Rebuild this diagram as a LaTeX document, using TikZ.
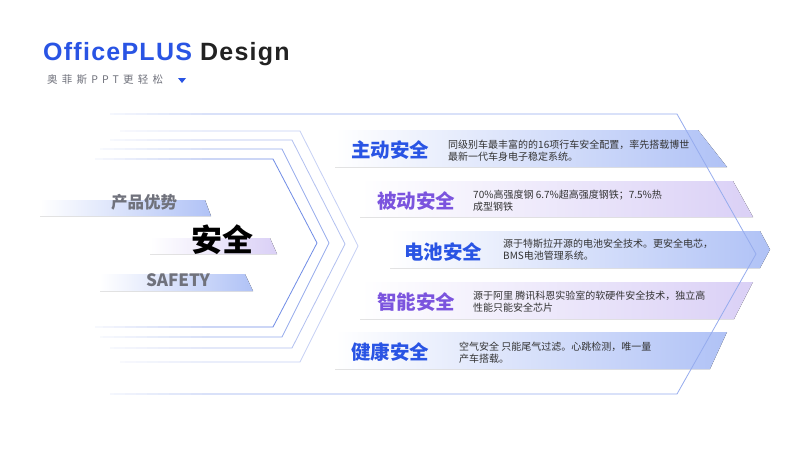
\documentclass[tikz,border=0pt]{standalone}
\usepackage{fontspec}
\setmainfont{Noto Sans CJK SC}
\newfontfamily\latinfont{Liberation Sans}[LetterSpace=5]
\newfontfamily\spacedfont{Noto Sans CJK SC}[LetterSpace=40]

\definecolor{brandblue}{RGB}{41,84,228}
\definecolor{darktext}{RGB}{34,34,34}
\definecolor{titlepurple}{RGB}{123,84,222}
\definecolor{bodygray}{RGB}{51,51,51}
\definecolor{labelgray}{RGB}{112,114,124}
\definecolor{barblue}{RGB}{176,194,246}
\definecolor{barlilac}{RGB}{218,208,246}
\definecolor{chevA}{RGB}{112,140,230}
\definecolor{chevB}{RGB}{150,170,236}
\definecolor{chevC}{RGB}{178,192,240}
\definecolor{chevD}{RGB}{198,208,245}
\definecolor{chevOut}{RGB}{150,172,238}

\tikzset{
  rowtitle/.style={anchor=west,inner sep=0pt,font=\fontsize{19.5}{20}\selectfont\bfseries},
  rowtext/.style={anchor=west,inner sep=0pt,align=left,text=bodygray,font=\fontsize{10}{12}\selectfont},
  bluebar/.style={left color=white,middle color=barblue!30,right color=barblue},
  lilacbar/.style={left color=white,middle color=barlilac!30,right color=barlilac},
  chevline/.style={line width=0.8pt,line join=miter}
}

\begin{document}
\begin{tikzpicture}[x=1pt,y=-1pt]
\useasboundingbox (0,0) rectangle (800,450);
\fill[white] (0,0) rectangle (800,450);

% header
\node[anchor=base west,inner sep=0pt,font=\latinfont\fontsize{25}{25}\selectfont\bfseries] (brand) at (43,60.5)
  {\textcolor{brandblue}{OfficePLUS} \textcolor{darktext}{Design}};
\node[anchor=west,inner sep=0pt,text=labelgray,font=\spacedfont\fontsize{10.5}{10}\selectfont] (slogan) at (47,80) {奥菲斯PPT更轻松};
\fill[brandblue] (178,78) -- (186,78) -- (182,83) -- cycle;

% bars on the right
\fill[bluebar] (335,130) -- (698,130) -- (727,167) -- (335,167) -- cycle;
\fill[lilacbar] (360,181) -- (733,181) -- (753,217) -- (360,217) -- cycle;
\fill[bluebar] (390,231) -- (760,231) -- (770,249.5) -- (760,268) -- (390,268) -- cycle;
\fill[lilacbar] (360,282) -- (753,282) -- (734,319) -- (360,319) -- cycle;
\fill[bluebar] (335,332) -- (727,332) -- (710,369) -- (335,369) -- cycle;

% chevrons
\draw[chevline,chevOut] (110,114) -- (677,114) -- (756,254) -- (677,394) -- (110,394);
\draw[chevline,chevD] (120,131) -- (300,131) -- (358,246) -- (300,362) -- (120,362);
\draw[chevline,chevC] (110,140) -- (292,140) -- (345,244) -- (292,348) -- (110,348);
\draw[chevline,chevB] (100,149) -- (282,149) -- (329,243) -- (282,337) -- (100,337);
\draw[chevline,chevA] (95,159) -- (273,159) -- (317,243) -- (273,327) -- (95,327);
% fade the left ends out
\foreach \i in {0,...,11}
  \fill[white,opacity=1-\i/12] (70+\i*11,100) rectangle +(11,310);

% left labels
\fill[left color=white,right color=barblue] (40,200) -- (205,200) -- (211,216) -- (40,216) -- cycle;
\fill[left color=white,right color=barlilac] (150,238) -- (270,238) -- (277,254) -- (150,254) -- cycle;
\fill[left color=white,right color=barblue] (100,274) -- (245,274) -- (253,291) -- (100,291) -- cycle;
\node[text=labelgray,font=\fontsize{16.5}{17}\selectfont\bfseries] (feature) at (144,202) {产品优势};
\node[text=black,font=\fontsize{31}{31}\selectfont\bfseries] (topic) at (222,240) {安全};
\node[text=labelgray,font=\fontsize{17}{17}\selectfont\bfseries] (safety) at (178,280) {SAFETY};

% rows
\node[rowtitle,text=brandblue] (active) at (351,150) {主动安全};
\node[rowtext] (activetext) at (448,151) {同级别车最丰富的的16项行车安全配置，率先搭载博世\\最新一代车身电子稳定系统。};
\node[rowtitle,text=titlepurple] (passive) at (377,201) {被动安全};
\node[rowtext] (passivetext) at (473,201) {70\%高强度钢 6.7\%超高强度钢铁；7.5\%热\\成型钢铁};
\node[rowtitle,text=brandblue] (battery) at (404,252) {电池安全};
\node[rowtext] (batterytext) at (503,250) {源于特斯拉开源的电池安全技术。更安全电芯，\\BMS电池管理系统。};
\node[rowtitle,text=titlepurple] (smart) at (377,302) {智能安全};
\node[rowtext] (smarttext) at (473,302) {源于阿里 腾讯科恩实验室的软硬件安全技术，独立高\\性能只能安全芯片};
\node[rowtitle,text=brandblue] (health) at (351,352) {健康安全};
\node[rowtext] (healthtext) at (459,353) {空气安全 只能尾气过滤。心跳检测，唯一量\\产车搭载。};
\end{tikzpicture}
\end{document}
